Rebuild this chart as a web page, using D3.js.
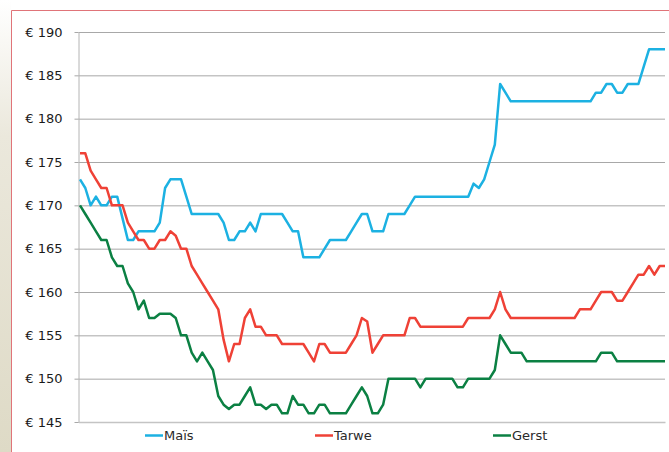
<!DOCTYPE html>
<html>
<head>
<meta charset="utf-8">
<script src="https://cdn.jsdelivr.net/npm/d3@7"></script>
<style>
  body { margin: 0; background: #fff; }
  svg { display: block; font-family: "DejaVu Sans", Verdana, sans-serif; }
</style>
</head>
<body>
<script>
// weekly prices
const mais = [
  173, 172, 170, 171, 170, 170, 171, 171, 168.5, 166,
  166, 167, 167, 167, 167, 168, 172, 173, 173, 173,
  171, 169, 169, 169, 169, 169, 169, 168, 166, 166,
  167, 167, 168, 167, 169, 169, 169, 169, 169, 168,
  167, 167, 164, 164, 164, 164, 165, 166, 166, 166,
  166, 167, 168, 169, 169, 167, 167, 167, 169, 169,
  169, 169, 170, 171, 171, 171, 171, 171, 171, 171,
  171, 171, 171, 171, 172.5, 172, 173, 175, 177, 184,
  183, 182, 182, 182, 182, 182, 182, 182, 182, 182,
  182, 182, 182, 182, 182, 182, 182, 183, 183, 184,
  184, 183, 183, 184, 184, 184, 186, 188, 188, 188,
  188
];
const tarwe = [
  176, 176, 174, 173, 172, 172, 170, 170, 170, 168,
  167, 166, 166, 165, 165, 166, 166, 167, 166.5, 165,
  165, 163, 162, 161, 160, 159, 158, 154.5, 152, 154,
  154, 157, 158, 156, 156, 155, 155, 155, 154, 154,
  154, 154, 154, 153, 152, 154, 154, 153, 153, 153,
  153, 154, 155, 157, 156.6, 153, 154, 155, 155, 155,
  155, 155, 157, 157, 156, 156, 156, 156, 156, 156,
  156, 156, 156, 157, 157, 157, 157, 157, 158, 160,
  158, 157, 157, 157, 157, 157, 157, 157, 157, 157,
  157, 157, 157, 157, 158, 158, 158, 159, 160, 160,
  160, 159, 159, 160, 161, 162, 162, 163, 162, 163,
  163
];
const gerst = [
  170, 169, 168, 167, 166, 166, 164, 163, 163, 161,
  160, 158, 159, 157, 157, 157.5, 157.5, 157.5, 157, 155,
  155, 153, 152, 153, 152, 151, 148, 147, 146.5, 147,
  147, 148, 149, 147, 147, 146.5, 147, 147, 146, 146,
  148, 147, 147, 146, 146, 147, 147, 146, 146, 146,
  146, 147, 148, 149, 148, 146, 146, 147, 150, 150,
  150, 150, 150, 150, 149, 150, 150, 150, 150, 150,
  150, 149, 149, 150, 150, 150, 150, 150, 151, 155,
  154, 153, 153, 153, 152, 152, 152, 152, 152, 152,
  152, 152, 152, 152, 152, 152, 152, 152, 153, 153,
  153, 152, 152, 152, 152, 152, 152, 152, 152, 152,
  152
];
const yTicks = [145, 150, 155, 160, 165, 170, 175, 180, 185, 190];
const seriesNames = ["Maïs", "Tarwe", "Gerst"];
const seriesColors = ["#1cb1e2", "#ef4136", "#0b8043"];

const w = 669, h = 452;
const plotLeft = 78.5, plotRight = 665, plotTop = 32, plotBottom = 422;

const svg = d3.select("body").append("svg")
  .attr("width", w)
  .attr("height", h);

// faded backdrop on the far left
const grad = svg.append("defs").append("linearGradient")
  .attr("id", "fade").attr("x1", 0).attr("y1", 0).attr("x2", 0).attr("y2", 1);
grad.append("stop").attr("offset", "0%").attr("stop-color", "#ffffff");
grad.append("stop").attr("offset", "30%").attr("stop-color", "#ebe8dc");
grad.append("stop").attr("offset", "100%").attr("stop-color", "#dedac6");
svg.append("rect").attr("x", 0).attr("y", 0).attr("width", 11).attr("height", h)
  .attr("fill", "url(#fade)");

// red frame
svg.append("path")
  .attr("d", "M11.5," + h + "V10.5H" + w)
  .attr("fill", "none")
  .attr("stroke", "#e07479")
  .attr("stroke-width", 1);

const x = d3.scaleLinear().domain([0, mais.length - 1]).range([80, plotRight]);
const y = d3.scaleLinear().domain([145, 190]).range([plotBottom, plotTop]);

// grid
svg.append("g")
  .attr("transform", "translate(" + plotLeft + ",0)")
  .call(d3.axisLeft(y).tickValues(yTicks).tickSize(-(plotRight - plotLeft)).tickFormat(""))
  .call((g) => g.select(".domain").remove())
  .call((g) => g.selectAll("line").attr("stroke", "#a8a8a8"));

// y axis
svg.append("g")
  .attr("transform", "translate(" + plotLeft + ",0)")
  .call(d3.axisLeft(y).tickValues(yTicks).tickSize(4).tickSizeOuter(0).tickPadding(12)
    .tickFormat((d) => "€ " + d))
  .call((g) => g.select(".domain").attr("stroke", "#b4b4b4"))
  .call((g) => g.selectAll("line").attr("stroke", "#a8a8a8"))
  .call((g) => g.selectAll("text")
    .attr("fill", "#1a1a1a")
    .style("font-size", "13px")
    .style("font-family", "'DejaVu Sans', Verdana, sans-serif"));

// x axis line
svg.append("g")
  .attr("transform", "translate(0," + plotBottom + ")")
  .call(d3.axisBottom(d3.scaleLinear().range([plotLeft, plotRight])).tickValues([]).tickSizeOuter(0))
  .call((g) => g.select(".domain").attr("stroke", "#c4c4c4").attr("stroke-width", 1.5));

// lines
const line = d3.line()
  .x((d, i) => x(i))
  .y((d) => y(d));

[mais, tarwe, gerst].forEach((s, k) => {
  svg.append("path")
    .datum(s)
    .attr("d", line)
    .attr("fill", "none")
    .attr("stroke", seriesColors[k])
    .attr("stroke-width", 2.5)
    .attr("stroke-linejoin", "round");
});

// legend
const legendX = [145, 315, 493];
const legend = svg.append("g").selectAll("g")
  .data(seriesNames)
  .enter()
  .append("g")
  .attr("transform", (d, i) => "translate(" + legendX[i] + ",435.5)");

legend.append("line")
  .attr("x1", 0).attr("x2", 18)
  .attr("stroke", (d, i) => seriesColors[i])
  .attr("stroke-width", 2.5);

legend.append("text")
  .attr("x", 19)
  .attr("dy", "0.36em")
  .attr("fill", "#2a2a2a")
  .style("font-size", "13px")
  .text((d) => d);
</script>
</body>
</html>
